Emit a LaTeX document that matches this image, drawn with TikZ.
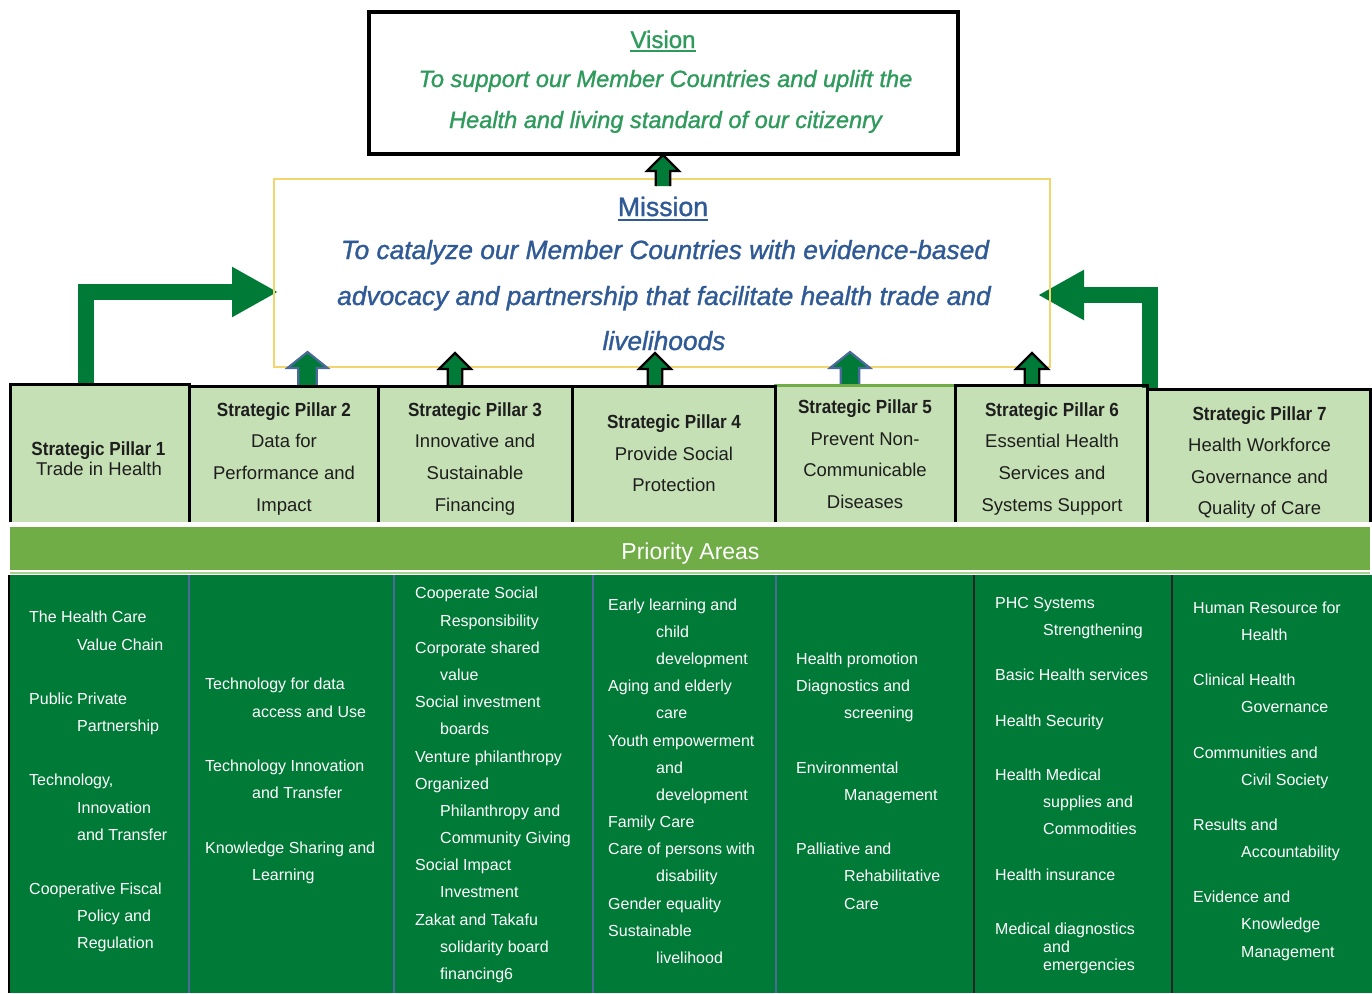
\documentclass[tikz,border=0pt]{standalone}
\usepackage{fontspec}
\setmainfont{Liberation Sans}
\newfontfamily\condsf[FakeStretch=0.9]{Liberation Sans}
\newfontfamily\heavysf[FakeBold=1.2]{Liberation Sans}
\usetikzlibrary{arrows.meta,calc}
\definecolor{agreen}{HTML}{007A37}
\definecolor{barcol}{HTML}{70AD47}
\definecolor{pfill}{HTML}{C5E0B4}
\definecolor{visgreen}{HTML}{2E9A5C}
\definecolor{misblue}{HTML}{2F5A96}
\definecolor{myyellow}{HTML}{F3D56E}
\definecolor{sepblue}{HTML}{4A6A9C}
\definecolor{thinline}{HTML}{A9D18E}
\definecolor{ptext}{HTML}{1E1E1E}
\newcommand\upblock[6]{%
  \filldraw[fill=agreen, draw=#6, line width=2.2pt, line join=miter]
    (#1-#4,#2) -- (#1-#4,#3+16) -- (#1-#5,#3+16) -- (#1,#3) -- (#1+#5,#3+16) -- (#1+#4,#3+16) -- (#1+#4,#2);}
\tikzset{
  pbox/.style={anchor=north west, fill=pfill, draw=none, inner sep=0, outer sep=0, minimum height=#1},
  pborder/.style={line width=3pt, line join=miter},
  ptitle/.style={anchor=base, inner sep=0, text=ptext, font=\condsf\bfseries\fontsize{19}{19}\selectfont},
  pline/.style={anchor=base, inner sep=0, text=ptext, font=\fontsize{18.5}{18.5}\selectfont},
  vtitle/.style={anchor=base, inner sep=0, text=visgreen, font=\heavysf\fontsize{24}{24}\selectfont},
  vline/.style={anchor=base, inner sep=0, text=visgreen, font=\heavysf\fontsize{23.6}{23.6}\selectfont\itshape},
  mtitle/.style={anchor=base, inner sep=0, text=misblue, font=\heavysf\fontsize{26.6}{26.6}\selectfont},
  mline/.style={anchor=base, inner sep=0, text=misblue, font=\heavysf\fontsize{26.3}{26.3}\selectfont\itshape},
  btext/.style={anchor=base west, inner sep=0, text=white, font=\fontsize{16}{16}\selectfont},
  bigarr/.style={draw=agreen, line width=16pt, line join=miter, -{Triangle[width=47pt,length=46pt]}},
}
\begin{document}
\begin{tikzpicture}[x=1pt,y=-1pt]
\useasboundingbox (0,0) rectangle (1372,993);
\fill[white] (0,0) rectangle (1372,993);

% Vision
\node[draw=black, line width=3.5pt, minimum width=589, minimum height=142, anchor=north west, inner sep=0, outer sep=0] (vision) at (369,12) {};
\node[vtitle] (vt) at (663,48) {Vision};
\draw[visgreen, line width=1.8pt] ($(vt.base west)+(0,3)$) -- ($(vt.base east)+(0,3)$);
\node[vline] (v1) at (665.5,87) {To support our Member Countries and uplift the};
\node[vline] (v2) at (665.5,128) {Health and living standard of our citizenry};

% Pillar boxes (fills)
\node[pbox=137, minimum width=180] (p5) at (775,385) {};
\node[pbox=138, minimum width=179] (p1) at (10,384) {};
\node[pbox=136, minimum width=189] (p2) at (189,386) {};
\node[pbox=136, minimum width=194] (p3) at (378,386) {};
\node[pbox=136, minimum width=203] (p4) at (572,386) {};
\node[pbox=137, minimum width=192] (p6) at (955,385) {};
\node[pbox=133, minimum width=223] (p7) at (1147,389) {};

% Mission box (frame drawn after big arrows)
\node[minimum width=776, minimum height=188, anchor=north west, inner sep=0, outer sep=0] (mission) at (274,179) {};

% Big bent arrows
\draw[bigarr] ($(p1.north west)+(75.5,0)$) |- ($(mission.west)+(4,19)$);
\draw[bigarr] ($(p7.north west)+(2.5,-1)$) |- ($(mission.east)+(-12,22)$);

\draw[myyellow, line width=2.5pt] (mission.south west) rectangle (mission.north east);
\node[mtitle] (mt) at (663,216) {Mission};
\draw[misblue, line width=2pt] ($(mt.base west)+(0,3.5)$) -- ($(mt.base east)+(0,3.5)$);
\node[mline] (m1) at (665,259) {To catalyze our Member Countries with evidence-based};
\node[mline] (m2) at (664,305) {advocacy and partnership that facilitate health trade and};
\node[mline] (m3) at (664,350) {livelihoods};

% small up arrows
\upblock{307.5}{386}{352}{9.25}{20}{sepblue}
\upblock{455}{386}{353}{7.25}{16}{black}
\upblock{655}{386}{353}{7.25}{16}{black}
\upblock{850}{385}{352}{9.25}{20}{sepblue}
\upblock{1032}{385}{353}{7.25}{16}{black}
\upblock{663}{186}{155}{7.25}{16}{black}

% Pillar borders
\draw[pborder, barcol] (p5.south west) -- (p5.north west) -- (p5.north east) -- (p5.south east);
\foreach \p in {p1,p2,p3,p4,p6,p7}
  \draw[pborder, black] (\p.south west) -- (\p.north west) -- (\p.north east) -- (\p.south east);

% Pillar texts
\foreach \x/\y/\t [count=\i] in {98.5/455/Strategic Pillar 1, 284/416/Strategic Pillar 2, 475/416/Strategic Pillar 3, 674/428/Strategic Pillar 4, 865/413/Strategic Pillar 5, 1052/416/Strategic Pillar 6, 1259.5/420/Strategic Pillar 7}
  \node[ptitle] (pt\i) at (\x,\y) {\t};
\foreach \x/\y/\t [count=\i] in {
  99/475/Trade in Health,
  284/447/Data for, 284/479/Performance and, 284/511/Impact,
  475/447/Innovative and, 475/479/Sustainable, 475/511/Financing,
  674/460/Provide Social, 674/491/Protection,
  865/445/Prevent Non-, 865/476/Communicable, 865/508/Diseases,
  1052/447/Essential Health, 1052/479/Services and, 1052/511/Systems Support,
  1259.5/451/Health Workforce, 1259.5/483/Governance and, 1259.5/514/Quality of Care}
  \node[pline] (pl\i) at (\x,\y) {\t};

% Priority areas bar
\node[anchor=north west, fill=barcol, inner sep=0, outer sep=0, minimum width=1360, minimum height=43] (bar) at (10,527) {};
\node[anchor=base, inner sep=0, text=white, font=\fontsize{23}{23}\selectfont] (barlabel) at (690.5,559) {Priority Areas};
\draw[thinline, line width=2pt] (10,573) -- (1370,573);

% Bottom panel
\node[anchor=north west, fill=agreen, inner sep=0, outer sep=0, minimum width=1364, minimum height=418] (panel) at (8,575) {};
\draw[black, line width=2.5pt] (9,575) -- (9,993);
\foreach \x in {189,394,593,776}
  \draw[sepblue, line width=2pt] (\x,575) -- (\x,993);
\foreach \x in {974,1172}
  \draw[black!85, line width=2pt] (\x,575) -- (\x,993);

% Bottom texts
\foreach \x/\y/\t [count=\i] in {
  29/622.5/The Health Care, 77/650.5/Value Chain, 29/704.5/Public Private, 77/731.5/Partnership,
  29/785.5/{Technology,}, 77/813.5/Innovation, 77/840.5/and Transfer,
  29/894.5/Cooperative Fiscal, 77/921.5/Policy and, 77/948.5/Regulation,
  205/689.5/Technology for data, 252/717.5/access and Use,
  205/771.5/Technology Innovation, 252/798.5/and Transfer,
  205/853.5/Knowledge Sharing and, 252/880.5/Learning,
  415/598.5/Cooperate Social, 440/626.5/Responsibility, 415/653.5/Corporate shared, 440/680.5/value,
  415/707.5/Social investment, 440/734.5/boards, 415/762.5/Venture philanthropy, 415/789.5/Organized,
  440/816.5/Philanthropy and, 440/843.5/Community Giving, 415/870.5/Social Impact, 440/897.5/Investment,
  415/925.5/Zakat and Takafu, 440/952.5/solidarity board, 440/979.5/financing6,
  608/610.5/Early learning and, 656/637.5/child, 656/664.5/development, 608/691.5/Aging and elderly,
  656/718.5/care, 608/746.5/Youth empowerment, 656/773.5/and, 656/800.5/development,
  608/827.5/Family Care, 608/854.5/Care of persons with, 656/881.5/disability,
  608/909.5/Gender equality, 608/936.5/Sustainable, 656/963.5/livelihood,
  796/664.5/Health promotion, 796/691.5/Diagnostics and, 844/718.5/screening,
  796/773.5/Environmental, 844/800.5/Management, 796/854.5/Palliative and,
  844/881.5/Rehabilitative, 844/909.5/Care,
  995/608.5/PHC Systems, 1043/635.5/Strengthening, 995/680.5/Basic Health services,
  995/726.5/Health Security, 995/780.5/Health Medical, 1043/807.5/supplies and,
  1043/834.5/Commodities, 995/880.5/Health insurance, 995/934.5/Medical diagnostics,
  1043/952.5/and, 1043/970.5/emergencies,
  1193/613.5/Human Resource for, 1241/640.5/Health, 1193/685.5/Clinical Health, 1241/712.5/Governance,
  1193/758.5/Communities and, 1241/785.5/Civil Society, 1193/830.5/Results and,
  1241/857.5/Accountability, 1193/902.5/Evidence and, 1241/929.5/Knowledge, 1241/957.5/Management}
  \node[btext] (b\i) at (\x,\y) {\t};
\end{tikzpicture}
\end{document}
